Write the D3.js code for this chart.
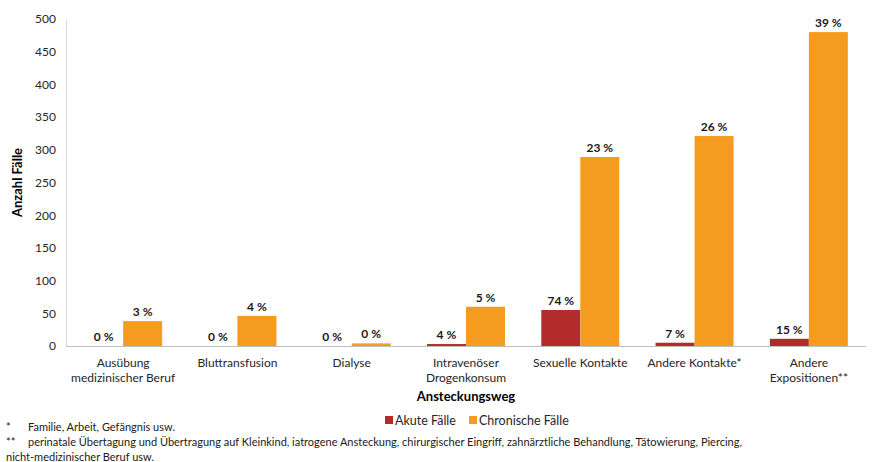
<!DOCTYPE html>
<html lang="de">
<head>
<meta charset="UTF-8">
<title>Ansteckungsweg</title>
<script src="https://cdn.jsdelivr.net/npm/d3@7"></script>
<style>
  body { margin: 0; background: #fff; }
  svg text { font-family: Lato, "Open Sans", sans-serif; }
</style>
</head>
<body>
<svg width="875" height="462"></svg>
<script>
    // Daten
    var categories = [
        ['Ausübung', 'medizinischer Beruf'],
        ['Bluttransfusion'],
        ['Dialyse'],
        ['Intravenöser', 'Drogenkonsum'],
        ['Sexuelle Kontakte'],
        ['Andere Kontakte*'],
        ['Andere', 'Expositionen**']
    ];
    var akute = [0, 0, 0, 3, 55, 5, 11];
    var chronische = [38, 46, 4, 60, 289, 321, 480];
    var akuteLabels = ['0 %', '0 %', '0 %', '4 %', '74 %', '7 %', '15 %'];
    var chronLabels = ['3 %', '4 %', '0 %', '5 %', '23 %', '26 %', '39 %'];
    var yTicks = [0, 50, 100, 150, 200, 250, 300, 350, 400, 450, 500];
    var seriesNames = ['Akute Fälle', 'Chronische Fälle'];
    var colors = ['#b42b2b', '#f59b20'];

    var svg = d3.select('svg');
    var plotLeft = 66, plotRight = 866, plotTop = 19, plotBottom = 346;

    var x = d3.scaleBand()
        .domain(d3.range(categories.length))
        .range([plotLeft, plotRight])
        .paddingInner(0)
        .paddingOuter(0);
    var inner = d3.scaleBand()
        .domain([0, 1])
        .range([0, x.bandwidth()])
        .paddingInner(0)
        .paddingOuter(0.465);
    var y = d3.scaleLinear().domain([0, 500]).range([plotBottom, plotTop]);

    // y-Achse
    var yAxis = svg.append('g')
        .attr('transform', 'translate(' + plotLeft + ',0)')
        .call(d3.axisLeft(y).tickValues(yTicks).tickSize(0).tickPadding(10));
    yAxis.select('.domain').attr('stroke', '#d9d9d9');
    yAxis.selectAll('text').attr('font-size', 12).attr('fill', '#262626')
        .style('font-family', 'Lato, sans-serif');

    // Balken
    var groups = svg.selectAll('.grp')
        .data(categories)
        .enter()
        .append('g')
        .attr('transform', function (d, i) { return 'translate(' + x(i) + ',0)'; });

    [akute, chronische].forEach(function (vals, s) {
        var labels = s === 0 ? akuteLabels : chronLabels;
        groups.append('rect')
            .attr('x', inner(s))
            .attr('width', inner.bandwidth())
            .attr('y', function (d, i) { return y(vals[i]); })
            .attr('height', function (d, i) { return plotBottom - y(vals[i]); })
            .attr('fill', colors[s]);
        groups.append('text')
            .attr('x', inner(s) + inner.bandwidth() / 2)
            .attr('y', function (d, i) { return y(vals[i]) - 5; })
            .attr('text-anchor', 'middle')
            .attr('font-size', 12)
            .attr('font-weight', 'bold')
            .attr('fill', '#1a1a1a')
            .text(function (d, i) { return labels[i]; });
    });

    // x-Achse
    svg.append('line')
        .attr('x1', plotLeft).attr('x2', plotRight)
        .attr('y1', plotBottom + 0.5).attr('y2', plotBottom + 0.5)
        .attr('stroke', '#bfbfbf');

    groups.append('text')
        .attr('x', x.bandwidth() / 2)
        .attr('y', 367)
        .attr('text-anchor', 'middle')
        .attr('font-size', 12)
        .attr('fill', '#262626')
        .selectAll('tspan')
        .data(function (d) { return d; })
        .enter()
        .append('tspan')
        .attr('x', x.bandwidth() / 2)
        .attr('dy', function (d, i) { return i === 0 ? 0 : 15; })
        .text(function (d) { return d; });

    // Achsentitel
    svg.append('text')
        .attr('x', (plotLeft + plotRight) / 2).attr('y', 401)
        .attr('text-anchor', 'middle')
        .attr('font-size', 13).attr('font-weight', 'bold')
        .text('Ansteckungsweg');
    svg.append('text')
        .attr('transform', 'translate(22,' + ((plotTop + plotBottom) / 2) + ') rotate(-90)')
        .attr('text-anchor', 'middle')
        .attr('font-size', 13).attr('font-weight', 'bold')
        .text('Anzahl Fälle');

    // Legende
    var legX = [385, 469];
    var leg = svg.selectAll('.leg')
        .data(seriesNames)
        .enter()
        .append('g')
        .attr('transform', function (d, i) { return 'translate(' + legX[i] + ',416)'; });
    leg.append('rect').attr('width', 8).attr('height', 8)
        .attr('fill', function (d, i) { return colors[i]; });
    leg.append('text').attr('x', 10).attr('y', 8.5)
        .attr('font-size', 12.5).attr('fill', '#262626')
        .text(function (d) { return d; });

    // Fußnoten
    var notes = [
        ['*', 'Familie, Arbeit, Gefängnis usw.', 431],
        ['**', 'perinatale Übertagung und Übertragung auf Kleinkind, iatrogene Ansteckung, chirurgischer Eingriff, zahnärztliche Behandlung, Tätowierung, Piercing,', 446]
    ];
    notes.forEach(function (n) {
        svg.append('text').attr('x', 6).attr('y', n[2]).attr('font-size', 11).attr('fill', '#1a1a1a').text(n[0]);
        svg.append('text').attr('x', 28).attr('y', n[2]).attr('font-size', 11).attr('fill', '#1a1a1a').text(n[1]);
    });
    svg.append('text').attr('x', 6).attr('y', 461).attr('font-size', 11).attr('fill', '#1a1a1a')
        .text('nicht-medizinischer Beruf usw.');
</script>
</body>
</html>
